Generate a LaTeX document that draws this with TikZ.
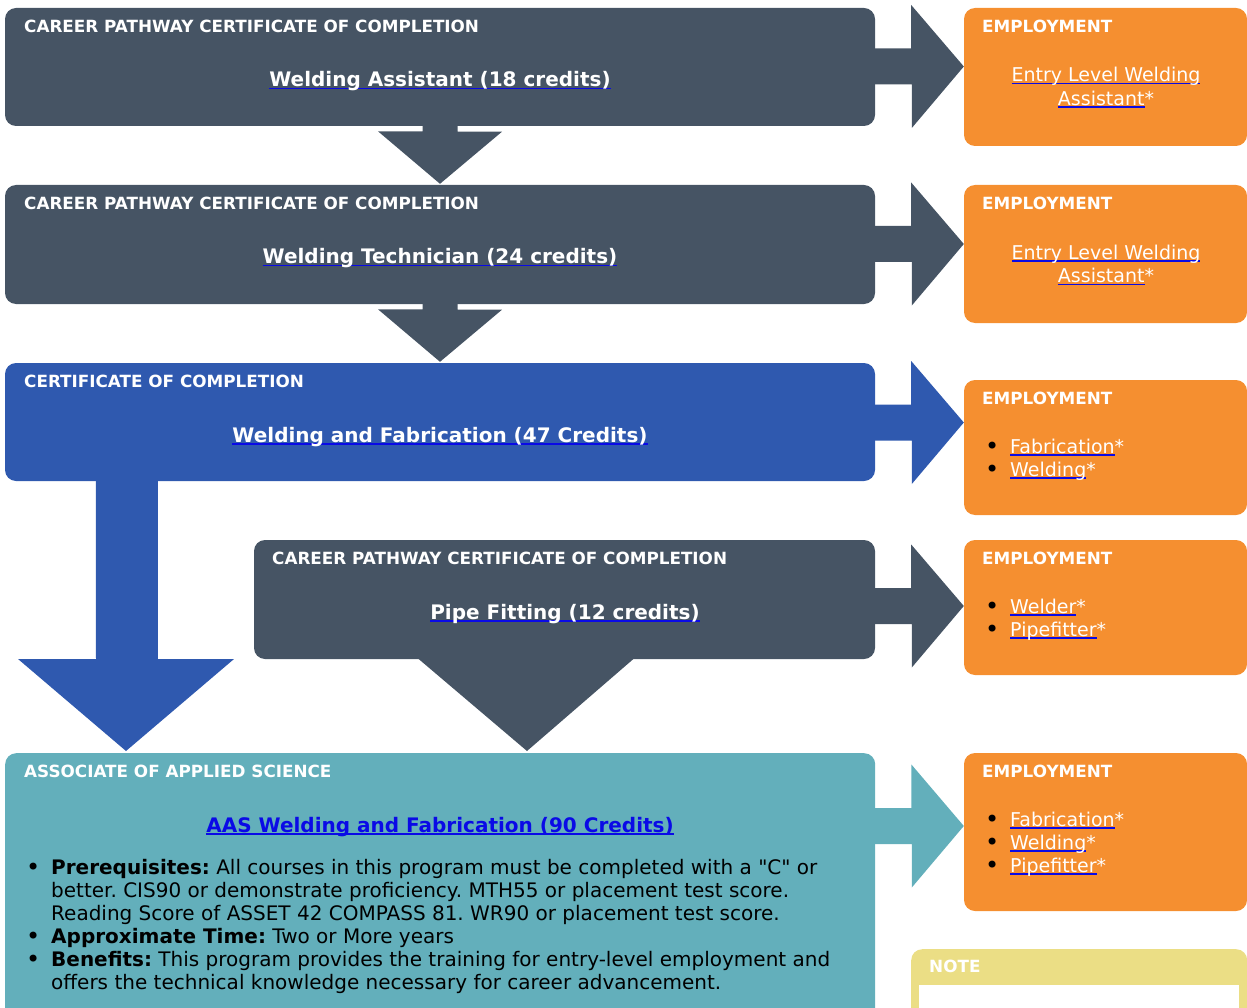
\documentclass[tikz,border=0pt]{standalone}
\usepackage{fontspec}
\setmainfont{DejaVu Sans}
\usetikzlibrary{calc}

\definecolor{slate}{HTML}{465464}
\definecolor{certblue}{HTML}{2F59AF}
\definecolor{aasteal}{HTML}{63AFBB}
\definecolor{joborange}{HTML}{F58F30}
\definecolor{noteyellow}{HTML}{EBDE85}
\definecolor{linkblue}{HTML}{0A0AE6}

\newsavebox\lnkbox
\newcommand\lnk[2][white]{\sbox\lnkbox{\textcolor{#1}{#2}}\rlap{\textcolor{linkblue}{\rule[-2.5pt]{\wd\lnkbox}{1.5pt}}}\usebox\lnkbox}
\newcommand\dotmark{{\fontsize{24}{24}\selectfont\raisebox{-1.5pt}{\textcolor{black}{\textbullet}}}}
\frenchspacing

\begin{document}
\begin{tikzpicture}[x=1pt,y=-1pt,
  box/.style={rectangle,rounded corners=11pt,inner sep=0pt},
  hdr/.style={anchor=base west,inner sep=0pt,text=white,font=\fontsize{16.8}{20}\selectfont\bfseries},
  ttl/.style={anchor=base,inner sep=0pt,text=white,font=\fontsize{20}{24}\selectfont\bfseries},
  job/.style={anchor=base,inner sep=0pt,text=white,font=\fontsize{19}{23}\selectfont},
  jobpt/.style={anchor=base west,inner sep=0pt,text=white,font=\fontsize{19}{23}\selectfont}]
\useasboundingbox (0,0) rectangle (1247,1008);
\clip (0,0) rectangle (1247,1008);

% programme boxes
\node[box,fill=slate,minimum width=870pt,minimum height=118pt] (b1) at (440,67) {};
\node[box,fill=slate,minimum width=870pt,minimum height=119pt] (b2) at (440,244.5) {};
\node[box,fill=certblue,minimum width=870pt,minimum height=118pt] (b3) at (440,422) {};
\node[box,fill=slate,minimum width=621pt,minimum height=119pt] (b4) at (564.5,599.5) {};
\node[box,fill=aasteal,minimum width=870pt,minimum height=280pt,anchor=north west] (b5) at (5,753) {};

% employment boxes
\node[box,fill=joborange,minimum width=283pt,minimum height=138pt] (e1) at (1105.5,77) {};
\node[box,fill=joborange,minimum width=283pt,minimum height=138pt] (e2) at (1105.5,254) {};
\node[box,fill=joborange,minimum width=283pt,minimum height=135pt] (e3) at (1105.5,447.5) {};
\node[box,fill=joborange,minimum width=283pt,minimum height=135pt] (e4) at (1105.5,607.5) {};
\node[box,fill=joborange,minimum width=283pt,minimum height=158pt] (e5) at (1105.5,832) {};
\node[box,fill=noteyellow,minimum width=336pt,minimum height=100pt,anchor=north west] (note) at (911,949) {};
\node[fill=white,inner sep=0pt,minimum width=320pt,minimum height=60pt,anchor=north west] (notebody) at (919,985) {};

% arrows down
\fill[slate] ($(b1.south)+(-17.5,-2)$) -- ++(35,0) -- ++(0,7.5) -- ++(44.5,0) -- ($(b2.north)+(0,-1)$) -- ++(-62,-52.5) -- ++(44.5,0) -- cycle;
\fill[slate] ($(b2.south)+(-17.5,-2)$) -- ++(35,0) -- ++(0,7.5) -- ++(44.5,0) -- ($(b3.north)+(0,-1)$) -- ++(-62,-52.5) -- ++(44.5,0) -- cycle;
\fill[certblue] ($(b3.south west)+(91,-2)$) -- ++(62,0) -- ++(0,180) -- ++(76,0) -- ($(b5.north west)+(121,-2)$) -- ++(-108,-92) -- ++(78,0) -- cycle;
\fill[slate] ($(b4.south)+(-148,-2)$) -- ++(219,0) -- ($(b5.north west)+(522,-2)$) -- cycle;

% arrows to employment
\foreach \src/\dst/\col/\ymid in {b1/e1/slate/66.5,b2/e2/slate/244,b3/e3/certblue/422.5,b4/e4/slate/606,b5/e5/aasteal/826}{
  \coordinate (m) at (0,\ymid);
  \fill[\col] (\src.east |- m) ++(-2,-18) -- ++(38,0) -- ++(0,-43.5) -- (\dst.west |- m) -- ++(-52,61.5) -- ++(0,-43.5) -- ++(-38,0) -- cycle;
}

% programme texts
\node[hdr] (h1) at (24,32.5) {CAREER PATHWAY CERTIFICATE OF COMPLETION};
\node[ttl] (t1) at (440,87) {\lnk{Welding Assistant (18 credits)}};
\node[hdr] (h2) at (24,209.5) {CAREER PATHWAY CERTIFICATE OF COMPLETION};
\node[ttl] (t2) at (440,264) {\lnk{Welding Technician (24 credits)}};
\node[hdr] (h3) at (24,387.5) {CERTIFICATE OF COMPLETION};
\node[ttl] (t3) at (440,442) {\lnk{Welding and Fabrication (47 Credits)}};
\node[hdr] (h4) at (272,564.5) {CAREER PATHWAY CERTIFICATE OF COMPLETION};
\node[ttl] (t4) at (565,619) {\lnk{Pipe Fitting (12 credits)}};
\node[hdr] (h5) at (24,777.5) {ASSOCIATE OF APPLIED SCIENCE};
\node[ttl] (t5) at (440,832) {\lnk[linkblue]{AAS Welding and Fabrication (90 Credits)}};
\node[anchor=north west,inner sep=0pt,align=left,text=black,font=\fontsize{20}{23}\selectfont] (aasinfo) at (51,859) {%
  \llap{\makebox[25pt][l]{\dotmark}}\textbf{Prerequisites:} All courses in this program must be completed with a \textquotedbl C\textquotedbl{} or\\
  better. CIS90 or demonstrate proficiency. MTH55 or placement test score.\\
  Reading Score of ASSET 42 COMPASS 81. WR90 or placement test score.\\
  \llap{\makebox[25pt][l]{\dotmark}}\textbf{Approximate Time:} Two or More years\\
  \llap{\makebox[25pt][l]{\dotmark}}\textbf{Benefits:} This program provides the training for entry-level employment and\\
  offers the technical knowledge necessary for career advancement.};

% employment texts
\node[hdr] (eh1) at (982,32.5) {EMPLOYMENT};
\node[job] (j1a) at (1106,82) {\lnk{Entry Level Welding}};
\node[job] (j1b) at (1106,105.5) {\lnk{Assistant}*};
\node[hdr] (eh2) at (982,209.5) {EMPLOYMENT};
\node[job] (j2a) at (1106,259.5) {\lnk{Entry Level Welding}};
\node[job] (j2b) at (1106,283) {\lnk{Assistant}*};
\node[hdr] (eh3) at (982,404.5) {EMPLOYMENT};
\node[jobpt] (j3a) at (985,453) {\makebox[25pt][l]{\dotmark}\lnk{Fabrication}*};
\node[jobpt] (j3b) at (985,476) {\makebox[25pt][l]{\dotmark}\lnk{Welding}*};
\node[hdr] (eh4) at (982,564.5) {EMPLOYMENT};
\node[jobpt] (j4a) at (985,613) {\makebox[25pt][l]{\dotmark}\lnk{Welder}*};
\node[jobpt] (j4b) at (985,636) {\makebox[25pt][l]{\dotmark}\lnk{Pipefitter}*};
\node[hdr] (eh5) at (982,777.5) {EMPLOYMENT};
\node[jobpt] (j5a) at (985,826) {\makebox[25pt][l]{\dotmark}\lnk{Fabrication}*};
\node[jobpt] (j5b) at (985,849) {\makebox[25pt][l]{\dotmark}\lnk{Welding}*};
\node[jobpt] (j5c) at (985,872) {\makebox[25pt][l]{\dotmark}\lnk{Pipefitter}*};
\node[hdr] (nh) at (929,972.5) {NOTE};
\end{tikzpicture}
\end{document}
